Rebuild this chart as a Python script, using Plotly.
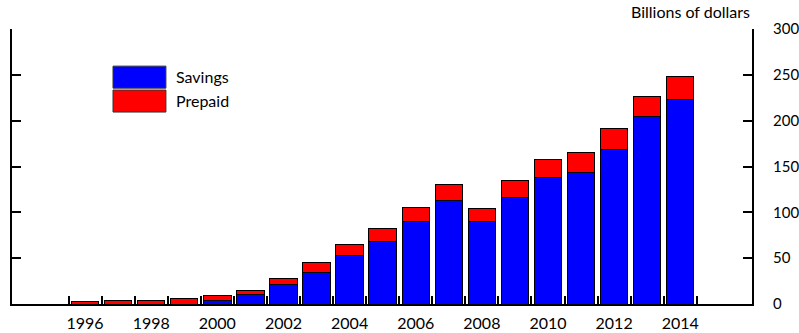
import plotly.graph_objects as go

years = list(range(1996, 2015))
savings = [0, 0, 0, 0, 3.3, 10.9, 21.8, 34.9, 52.4, 68.7, 90.2, 112.4, 89.5, 116.7, 138.5, 144.0, 168.3, 204.3, 223.6]
prepaid = [2.6, 3.5, 4.0, 6.2, 6.5, 3.3, 5.5, 10.9, 12.0, 14.2, 15.6, 17.8, 15.2, 17.5, 19.3, 21.4, 23.3, 22.6, 24.4]
label_years = [1996, 1998, 2000, 2002, 2004, 2006, 2008, 2010, 2012, 2014]
sep_ticks = [y + 0.5 for y in range(1995, 2015)]
y_ticks = [0, 50, 100, 150, 200, 250, 300]
y_top = [300]

FONT = "Lato"
FS = 16
xr = [1993.79, 2016.17]
yr = [0, 300]

fig = go.Figure()
fig.add_trace(go.Bar(x=years, y=savings, name="Savings", marker=dict(color="#0000FF", line=dict(color="black", width=1)), width=0.83, showlegend=False))
fig.add_trace(go.Bar(x=years, y=prepaid, name="Prepaid", marker=dict(color="#FF0000", line=dict(color="black", width=1)), width=0.83, showlegend=False))
fig.add_trace(go.Scatter(x=label_years, y=[0] * len(label_years), xaxis="x2", mode="markers",
                         marker=dict(opacity=0), hoverinfo="skip", showlegend=False))
fig.add_trace(go.Scatter(x=years, y=[0] * len(years), yaxis="y2", mode="markers",
                         marker=dict(opacity=0), hoverinfo="skip", showlegend=False))

fig.update_layout(
    width=799, height=333,
    margin=dict(l=12, r=47, t=29, b=29),
    barmode="stack",
    plot_bgcolor="white", paper_bgcolor="white",
    font=dict(family=FONT, size=FS, color="black"),
    xaxis=dict(range=xr, tickvals=sep_ticks, ticktext=[""] * len(sep_ticks), ticks="inside", ticklen=8, tickwidth=2,
               tickcolor="black", showline=True, linewidth=2, linecolor="black", showgrid=False, zeroline=False,
               automargin=False),
    xaxis2=dict(range=xr, overlaying="x", anchor="y", side="bottom", tickvals=label_years,
                ticktext=[str(y) for y in label_years], ticks="", showline=False, showgrid=False, zeroline=False,
                tickfont=dict(family=FONT, size=FS), ticklabelstandoff=8, automargin=False),
    yaxis=dict(range=yr, side="right", tickvals=y_ticks, ticks="inside", ticklen=9, tickwidth=2, tickcolor="black",
               showline=True, linewidth=2, linecolor="black", mirror="ticks", showgrid=False, zeroline=False,
               ticklabelstandoff=16, tickfont=dict(family=FONT, size=15), automargin=False),
    yaxis2=dict(range=yr, overlaying="y", side="right", tickvals=y_top, ticks="inside", ticklen=17, tickwidth=2,
                tickcolor="black", showticklabels=False, showline=True, linewidth=2, linecolor="black",
                mirror="ticks", showgrid=False, zeroline=False, automargin=False),
)

# legend
fig.add_shape(type="rect", xref="paper", yref="paper", x0=0.1365, x1=0.208, y0=0.785, y1=0.865,
              fillcolor="#0000FF", line=dict(color="#333333", width=1))
fig.add_shape(type="rect", xref="paper", yref="paper", x0=0.1365, x1=0.208, y0=0.698, y1=0.778,
              fillcolor="#FF0000", line=dict(color="#333333", width=1))
fig.add_annotation(xref="paper", yref="paper", x=0.219, y=0.828, text="Savings", showarrow=False,
                   xanchor="left", yanchor="middle", font=dict(family=FONT, size=FS))
fig.add_annotation(xref="paper", yref="paper", x=0.219, y=0.741, text="Prepaid", showarrow=False,
                   xanchor="left", yanchor="middle", font=dict(family=FONT, size=FS))
fig.add_annotation(xref="paper", yref="paper", x=1.0, y=1.065, text="Billions of dollars", showarrow=False,
                   xanchor="right", yanchor="middle", font=dict(family=FONT, size=FS))

fig.write_html("out.html")
